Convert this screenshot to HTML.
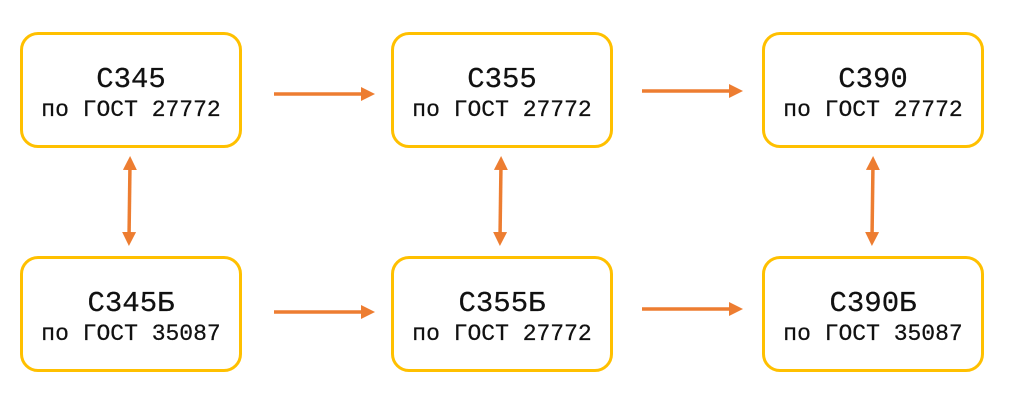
<!DOCTYPE html>
<html><head><meta charset="utf-8"><style>
body{margin:0;width:1024px;height:417px;background:#fff;position:relative;overflow:hidden;font-family:"Liberation Mono","DejaVu Sans Mono",monospace;}
.b{position:absolute;width:216px;height:110px;border:3px solid #FFC000;border-radius:18px;background:#fff;text-align:center;color:#111;-webkit-text-stroke:0.25px #111;}
.t{position:absolute;left:0;right:0;top:29px;font-size:29px;line-height:32px;}
.s{position:absolute;left:0;right:0;top:62px;font-size:23px;line-height:26px;}
svg{position:absolute;left:0;top:0}
</style></head><body>
<div class="b" style="left:20px;top:32px"><div class="t">С345</div><div class="s">по ГОСТ 27772</div></div>
<div class="b" style="left:391px;top:32px"><div class="t">С355</div><div class="s">по ГОСТ 27772</div></div>
<div class="b" style="left:762px;top:32px"><div class="t">С390</div><div class="s">по ГОСТ 27772</div></div>
<div class="b" style="left:20px;top:256px"><div class="t">С345Б</div><div class="s">по ГОСТ 35087</div></div>
<div class="b" style="left:391px;top:256px"><div class="t">С355Б</div><div class="s">по ГОСТ 27772</div></div>
<div class="b" style="left:762px;top:256px"><div class="t">С390Б</div><div class="s">по ГОСТ 35087</div></div>
<svg width="1024" height="417">
<defs><marker id="a" markerWidth="4" markerHeight="4" refX="2" refY="2" orient="auto-start-reverse" markerUnits="strokeWidth"><path d="M0,0 L4,2 L0,4 z" fill="#ED7D31"/></marker></defs>
<g stroke="#ED7D31" stroke-width="3.5" fill="none">
<line x1="274" y1="94" x2="368" y2="94" marker-end="url(#a)"/>
<line x1="642" y1="91" x2="736" y2="91" marker-end="url(#a)"/>
<line x1="274" y1="312" x2="368" y2="312" marker-end="url(#a)"/>
<line x1="642" y1="309" x2="736" y2="309" marker-end="url(#a)"/>
<line x1="130" y1="163" x2="129" y2="239" marker-start="url(#a)" marker-end="url(#a)"/>
<line x1="501" y1="163" x2="500" y2="239" marker-start="url(#a)" marker-end="url(#a)"/>
<line x1="873" y1="163" x2="872" y2="239" marker-start="url(#a)" marker-end="url(#a)"/>
</g></svg>
</body></html>
